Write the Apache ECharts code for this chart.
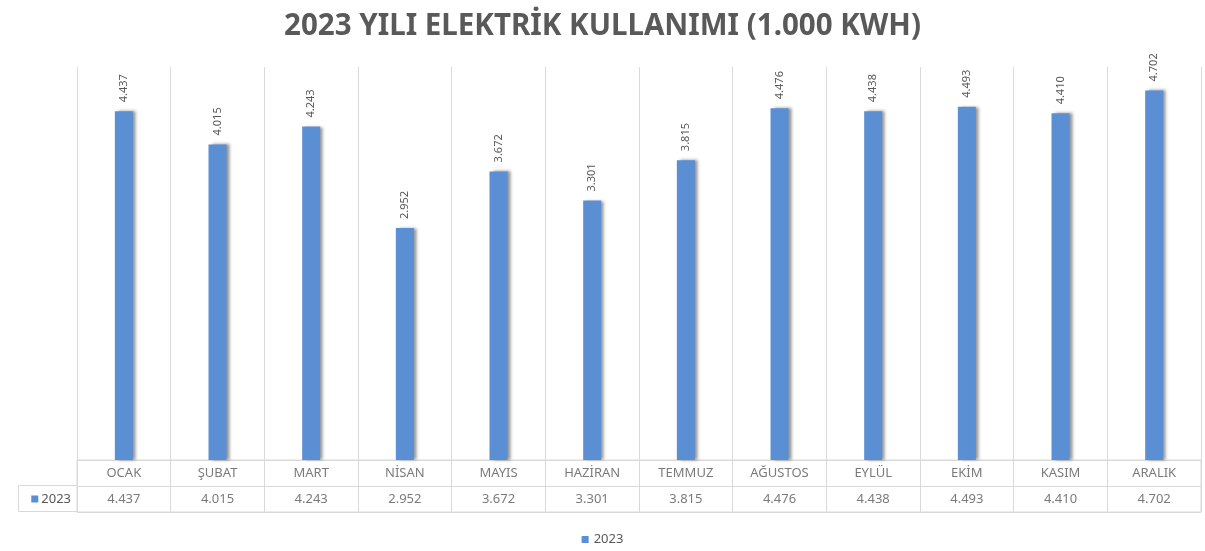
<!DOCTYPE html>
<html><head><meta charset="utf-8">
<script src="https://cdn.jsdelivr.net/npm/echarts@6/dist/echarts.min.js"></script>
<style>html,body{margin:0;padding:0;background:#fff}#c{width:1205px;height:551px}</style>
</head><body><div id="c"></div>
<script>
const title = '2023 YILI ELEKTRİK KULLANIMI (1.000 KWH)';
const categories = ['OCAK','ŞUBAT','MART','NİSAN','MAYIS','HAZİRAN','TEMMUZ','AĞUSTOS','EYLÜL','EKİM','KASIM','ARALIK'];
const seriesName = '2023';
const values = [4437, 4015, 4243, 2952, 3672, 3301, 3815, 4476, 4438, 4493, 4410, 4702];

function fmt(v){ return String(v).replace(/\B(?=(\d{3})+(?!\d))/g, '.'); }
const FONT = '"Noto Sans", "Open Sans", sans-serif';
const GRAY = '#595959';
const LINE = '#d9d9d9';
const BLUE = '#5b8fd3';

const chart = echarts.init(document.getElementById('c'), null, {renderer:'canvas'});
chart.setOption({
  animation:false,
  textStyle:{fontFamily:FONT},
  title:{text:title, left:'center', top:7, textStyle:{fontFamily:FONT, fontSize:29.5, fontWeight:'bold', color:GRAY}},
  legend:{bottom:0, left:'center', icon:'rect', itemWidth:7, itemHeight:7, itemGap:3, data:[seriesName], textStyle:{color:GRAY, fontSize:13}},
  grid:[
    {left:77, right:4, top:67, bottom:91, show:false},
    {left:77, right:4, top:460, height:52, show:true, borderColor:LINE, borderWidth:1}
  ],
  xAxis:[
    {type:'category', gridIndex:0, data:categories, axisLine:{show:false}, axisTick:{show:false}, axisLabel:{show:false},
     splitLine:{show:true, lineStyle:{color:LINE, width:1}}},
    {type:'category', gridIndex:1, data:categories, axisLine:{show:false}, axisTick:{show:false}, axisLabel:{show:false},
     splitLine:{show:true, lineStyle:{color:LINE, width:1}}}
  ],
  yAxis:[
    {type:'value', gridIndex:0, min:0, max:5000, show:false, splitLine:{show:false}},
    {type:'category', gridIndex:1, data:['val','cat'], axisLine:{show:false}, axisTick:{show:false},
     splitLine:{show:true, lineStyle:{color:LINE}},
     axisLabel:{margin:6, formatter:function(v){ return v==='val' ? '{sq|}{t|'+seriesName+'}' : ''; },
       rich:{sq:{width:7, height:7, backgroundColor:BLUE}, t:{color:GRAY, fontSize:13, padding:[0,0,0,3]}}}}
  ],
  graphic:[
    {type:'polyline', shape:{points:[[77,485.5],[18.5,485.5],[18.5,511.5],[77,511.5]]}, style:{stroke:LINE, fill:null, lineWidth:1}, silent:true}
  ],
  series:[
    {name:seriesName, type:'bar', xAxisIndex:0, yAxisIndex:0, data:values, barWidth:18,
     itemStyle:{color:BLUE, shadowColor:'rgba(60,60,60,0.55)', shadowBlur:3, shadowOffsetX:3, shadowOffsetY:0},
     label:{show:true, position:'top', rotate:90, align:'left', verticalAlign:'middle', distance:9,
       formatter:function(p){return fmt(p.value);}, color:GRAY, fontSize:11}},
    {type:'scatter', xAxisIndex:1, yAxisIndex:1, symbolSize:0, silent:true,
     data:categories.map(function(c){return [c,'cat'];}),
     label:{show:true, position:'inside', formatter:function(p){return p.value[0];}, color:GRAY, fontSize:13}},
    {type:'scatter', xAxisIndex:1, yAxisIndex:1, symbolSize:0, silent:true,
     data:values.map(function(v,i){return [categories[i],'val',v];}),
     label:{show:true, position:'inside', formatter:function(p){return fmt(p.value[2]);}, color:GRAY, fontSize:13}}
  ]
});
</script></body></html>
